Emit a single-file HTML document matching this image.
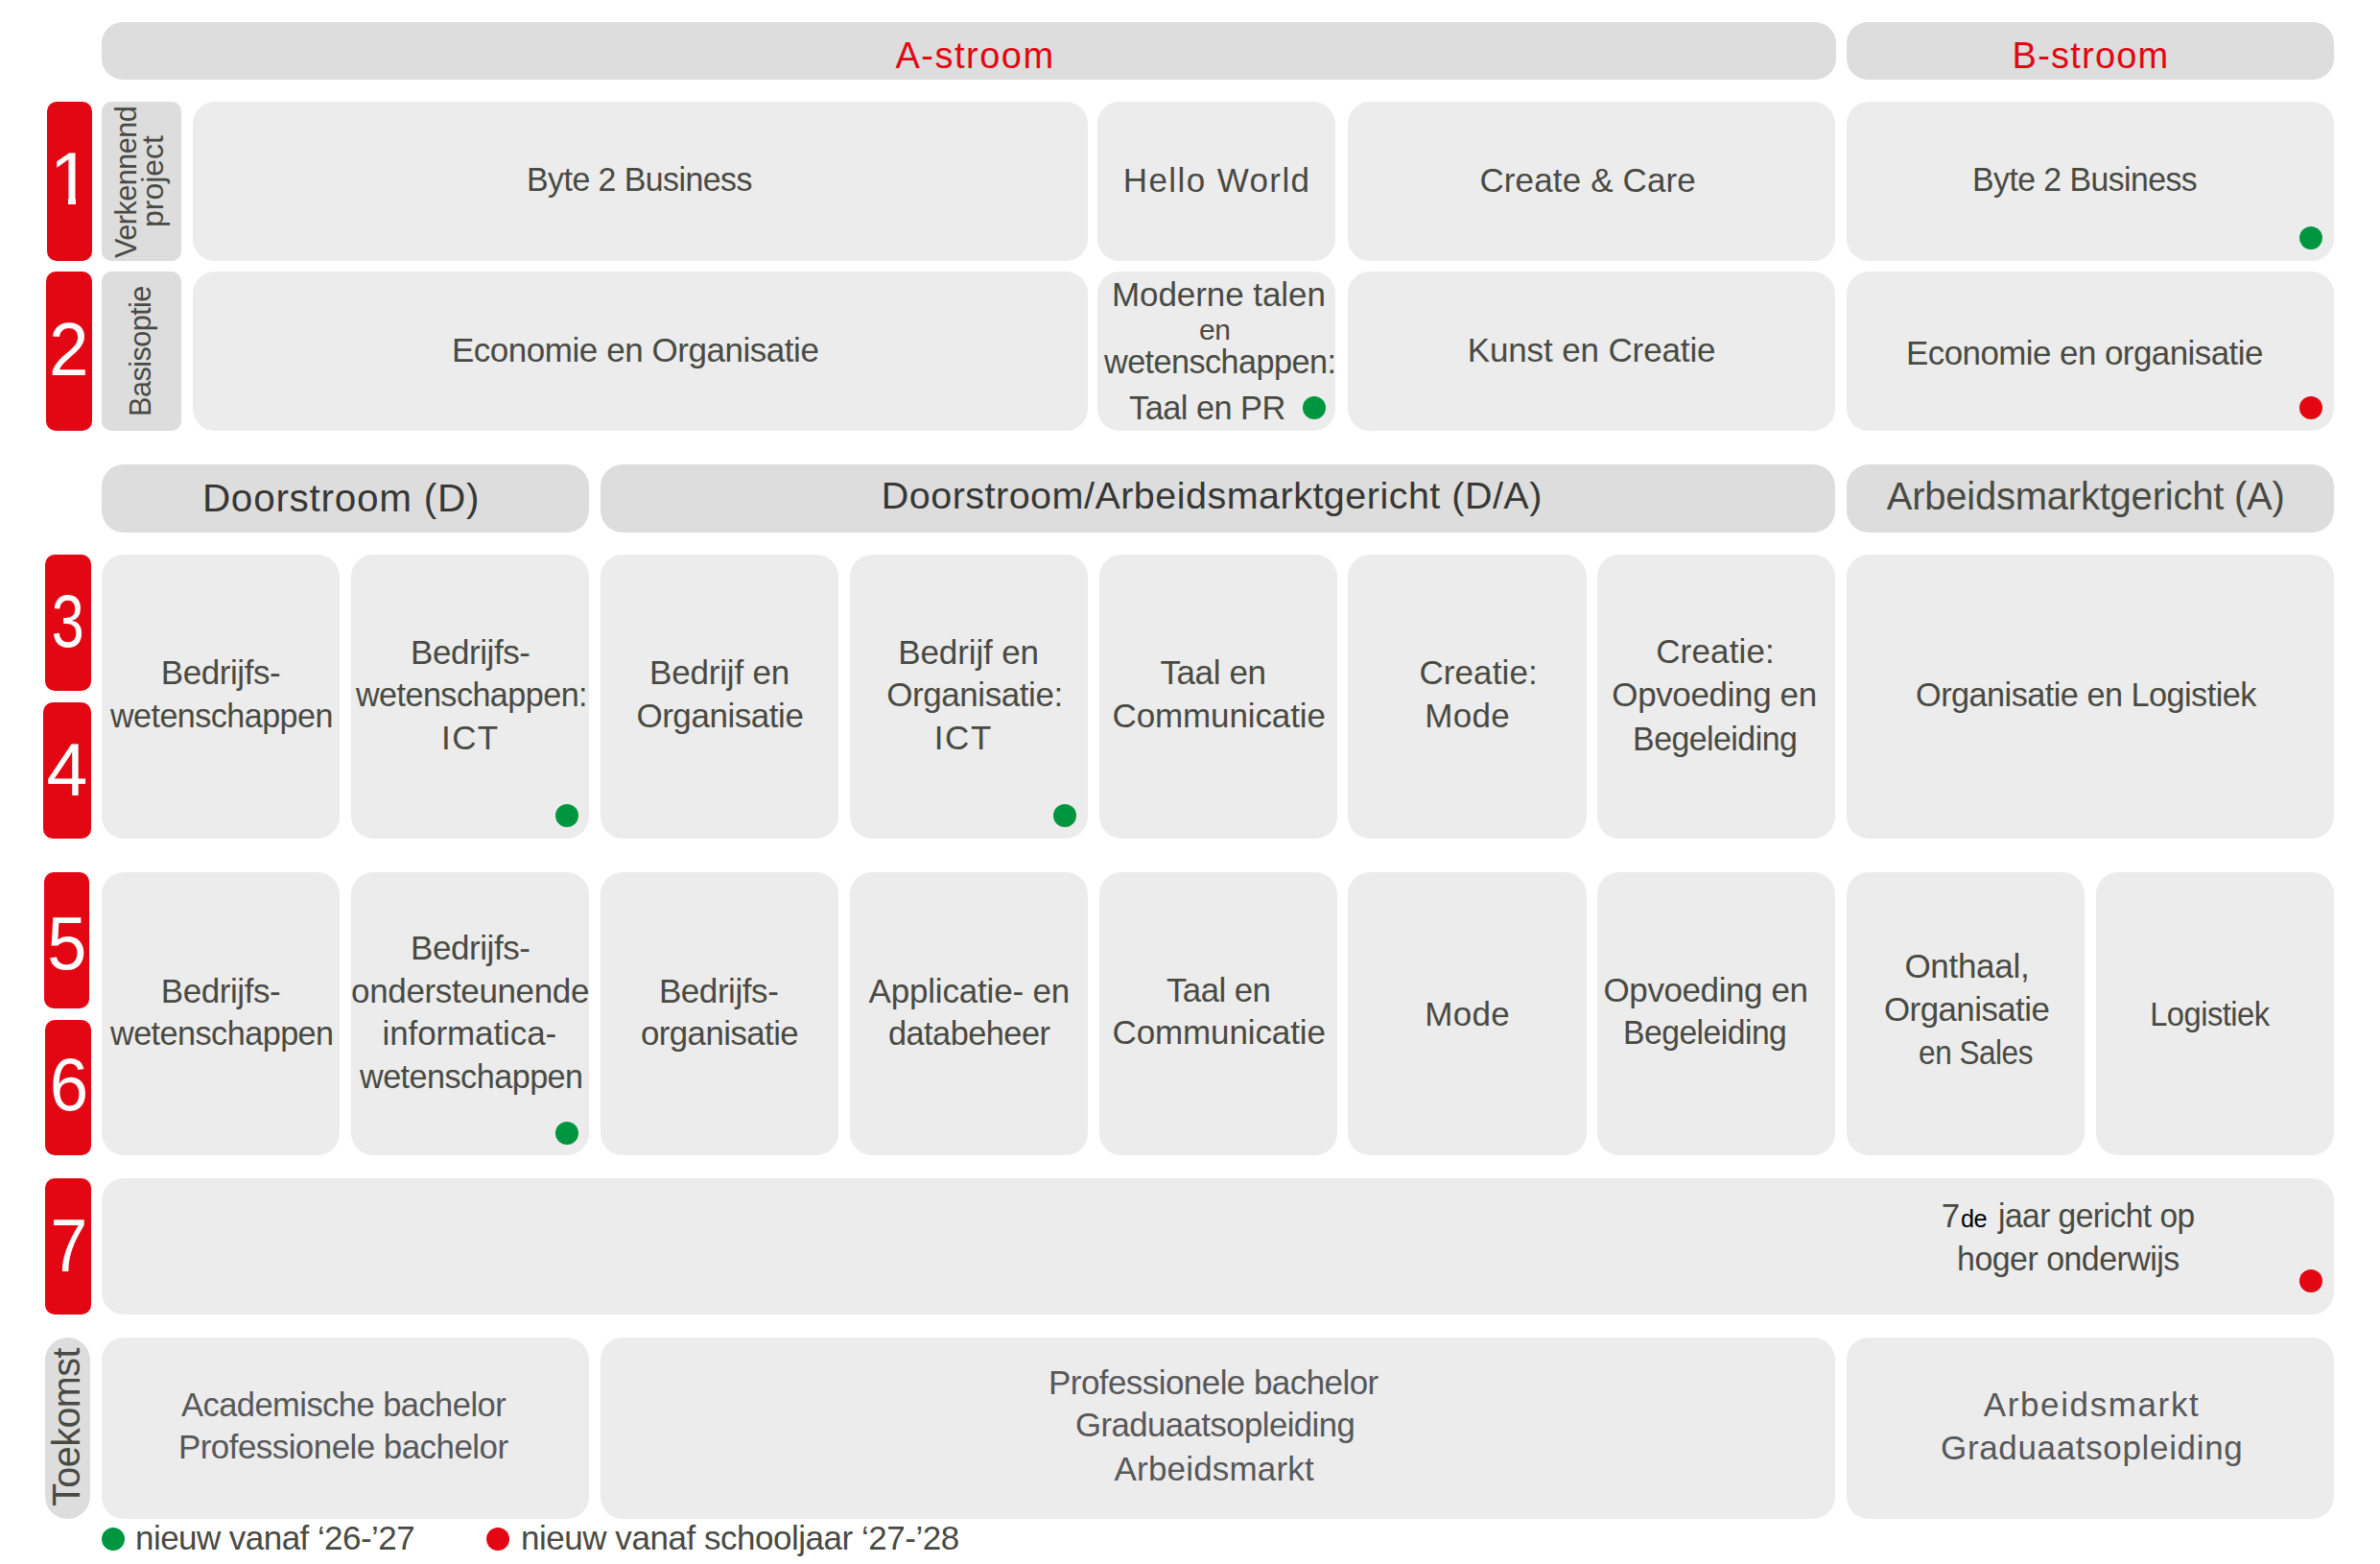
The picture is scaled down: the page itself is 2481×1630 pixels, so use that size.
<!DOCTYPE html>
<html lang="nl">
<head>
<meta charset="utf-8">
<title>Studieaanbod</title>
<style>
html,body{margin:0;padding:0;background:#fff}
body{width:2481px;height:1630px;position:relative;overflow:hidden;font-family:"Liberation Sans", sans-serif}
.b{position:absolute}
.d{position:absolute;width:24px;height:24px;border-radius:50%}
.t{position:absolute;white-space:nowrap;line-height:1;font-kerning:normal}
</style>
</head>
<body>
<div class="b" style="left:106.0px;top:23.4px;width:1807.5px;height:59.2px;background:#dddddd;border-radius:22px"></div>
<div class="b" style="left:1925.0px;top:23.4px;width:508.0px;height:59.2px;background:#dddddd;border-radius:22px"></div>
<div class="b" style="left:106.0px;top:484.2px;width:508.2px;height:70.8px;background:#dddddd;border-radius:23px"></div>
<div class="b" style="left:625.8px;top:484.2px;width:1287.7px;height:70.8px;background:#dddddd;border-radius:23px"></div>
<div class="b" style="left:1925.0px;top:484.2px;width:508.0px;height:70.8px;background:#dddddd;border-radius:23px"></div>
<div class="b" style="left:106.2px;top:106.0px;width:82.9px;height:165.5px;background:#dddddd;border-radius:10px"></div>
<div class="b" style="left:106.2px;top:283.2px;width:82.9px;height:165.4px;background:#dddddd;border-radius:10px"></div>
<div class="b" style="left:47.1px;top:1393.5px;width:47.1px;height:189.0px;background:#dddddd;border-radius:23.5px"></div>
<div class="b" style="left:48.5px;top:106.0px;width:47.3px;height:165.5px;background:#e30613;border-radius:10px"></div>
<div class="b" style="left:48.3px;top:283.2px;width:47.4px;height:165.4px;background:#e30613;border-radius:10px"></div>
<div class="b" style="left:47.2px;top:578.4px;width:47.6px;height:142.0px;background:#e30613;border-radius:10px"></div>
<div class="b" style="left:45.2px;top:732.2px;width:50.0px;height:141.7px;background:#e30613;border-radius:10px"></div>
<div class="b" style="left:46.0px;top:909.2px;width:47.4px;height:141.6px;background:#e30613;border-radius:10px"></div>
<div class="b" style="left:46.9px;top:1062.8px;width:47.9px;height:141.7px;background:#e30613;border-radius:10px"></div>
<div class="b" style="left:46.9px;top:1228.2px;width:47.7px;height:141.8px;background:#e30613;border-radius:10px"></div>
<div class="b" style="left:200.8px;top:106.0px;width:933.2px;height:165.5px;background:#ececec;border-radius:23px"></div>
<div class="b" style="left:1144.0px;top:106.0px;width:248.0px;height:165.5px;background:#ececec;border-radius:23px"></div>
<div class="b" style="left:1405.3px;top:106.0px;width:508.2px;height:165.5px;background:#ececec;border-radius:23px"></div>
<div class="b" style="left:1925.0px;top:106.0px;width:508.0px;height:165.5px;background:#ececec;border-radius:23px"></div>
<div class="b" style="left:200.8px;top:283.2px;width:933.2px;height:165.5px;background:#ececec;border-radius:23px"></div>
<div class="b" style="left:1144.0px;top:283.2px;width:248.0px;height:165.5px;background:#ececec;border-radius:23px"></div>
<div class="b" style="left:1405.3px;top:283.2px;width:508.2px;height:165.5px;background:#ececec;border-radius:23px"></div>
<div class="b" style="left:1925.0px;top:283.2px;width:508.0px;height:165.5px;background:#ececec;border-radius:23px"></div>
<div class="b" style="left:106.1px;top:578.4px;width:248.2px;height:295.5px;background:#ececec;border-radius:23px"></div>
<div class="b" style="left:366.0px;top:578.4px;width:248.2px;height:295.5px;background:#ececec;border-radius:23px"></div>
<div class="b" style="left:625.8px;top:578.4px;width:248.2px;height:295.5px;background:#ececec;border-radius:23px"></div>
<div class="b" style="left:885.7px;top:578.4px;width:248.2px;height:295.5px;background:#ececec;border-radius:23px"></div>
<div class="b" style="left:1145.6px;top:578.4px;width:248.2px;height:295.5px;background:#ececec;border-radius:23px"></div>
<div class="b" style="left:1405.4px;top:578.4px;width:248.2px;height:295.5px;background:#ececec;border-radius:23px"></div>
<div class="b" style="left:1665.3px;top:578.4px;width:248.2px;height:295.5px;background:#ececec;border-radius:23px"></div>
<div class="b" style="left:1925.0px;top:578.4px;width:508.0px;height:295.5px;background:#ececec;border-radius:23px"></div>
<div class="b" style="left:106.1px;top:909.2px;width:248.2px;height:295.1px;background:#ececec;border-radius:23px"></div>
<div class="b" style="left:366.0px;top:909.2px;width:248.2px;height:295.1px;background:#ececec;border-radius:23px"></div>
<div class="b" style="left:625.8px;top:909.2px;width:248.2px;height:295.1px;background:#ececec;border-radius:23px"></div>
<div class="b" style="left:885.7px;top:909.2px;width:248.2px;height:295.1px;background:#ececec;border-radius:23px"></div>
<div class="b" style="left:1145.6px;top:909.2px;width:248.2px;height:295.1px;background:#ececec;border-radius:23px"></div>
<div class="b" style="left:1405.4px;top:909.2px;width:248.2px;height:295.1px;background:#ececec;border-radius:23px"></div>
<div class="b" style="left:1665.3px;top:909.2px;width:248.2px;height:295.1px;background:#ececec;border-radius:23px"></div>
<div class="b" style="left:1925.2px;top:909.2px;width:248.2px;height:295.1px;background:#ececec;border-radius:23px"></div>
<div class="b" style="left:2185.1px;top:909.2px;width:248.2px;height:295.1px;background:#ececec;border-radius:23px"></div>
<div class="b" style="left:106.1px;top:1228.2px;width:2326.9px;height:141.8px;background:#ececec;border-radius:23px"></div>
<div class="b" style="left:106.2px;top:1393.5px;width:508.0px;height:189.0px;background:#ececec;border-radius:23px"></div>
<div class="b" style="left:625.8px;top:1393.5px;width:1287.7px;height:189.0px;background:#ececec;border-radius:23px"></div>
<div class="b" style="left:1925.0px;top:1393.5px;width:508.0px;height:189.0px;background:#ececec;border-radius:23px"></div>
<div class="d" style="left:2397.4px;top:236.0px;background:#009640"></div>
<div class="d" style="left:1358.0px;top:412.8px;background:#009640"></div>
<div class="d" style="left:578.5px;top:838.1px;background:#009640"></div>
<div class="d" style="left:1098.1px;top:838.1px;background:#009640"></div>
<div class="d" style="left:578.5px;top:1168.9px;background:#009640"></div>
<div class="d" style="left:106.2px;top:1592.0px;background:#009640"></div>
<div class="d" style="left:2397.4px;top:413.0px;background:#e30613"></div>
<div class="d" style="left:2397.3px;top:1322.6px;background:#e30613"></div>
<div class="d" style="left:507.4px;top:1592.0px;background:#e30613"></div>
<span class="t" style="left:933.50px;top:38.80px;font-size:38px;letter-spacing:1.503px;color:#e30613">A-stroom</span>
<span class="t" style="left:2097.60px;top:38.80px;font-size:38px;letter-spacing:1.217px;color:#e30613">B-stroom</span>
<span class="t" style="left:549.20px;top:168.80px;font-size:35px;letter-spacing:-0.550px;color:#494a43;transform-origin:2.00px 50%;transform:scaleX(0.9673)">Byte 2 Business</span>
<span class="t" style="left:1170.70px;top:169.50px;font-size:35px;letter-spacing:1.412px;color:#494a43">Hello World</span>
<span class="t" style="left:1542.40px;top:169.50px;font-size:35px;letter-spacing:0.138px;color:#494a43">Create &amp; Care</span>
<span class="t" style="left:2055.70px;top:169.40px;font-size:35px;letter-spacing:-0.550px;color:#494a43;transform-origin:2.00px 50%;transform:scaleX(0.9644)">Byte 2 Business</span>
<span class="t" style="left:470.90px;top:346.80px;font-size:35px;letter-spacing:-0.456px;color:#494a43">Economie en Organisatie</span>
<span class="t" style="left:1158.90px;top:289.20px;font-size:35px;letter-spacing:-0.066px;color:#494a43">Moderne talen</span>
<span class="t" style="left:1250.00px;top:328.90px;font-size:30px;letter-spacing:-0.385px;color:#494a43">en</span>
<span class="t" style="left:1151.20px;top:359.20px;font-size:35px;letter-spacing:-0.550px;color:#494a43;transform-origin:-1.00px 50%;transform:scaleX(0.9767)">wetenschappen:</span>
<span class="t" style="left:1177.10px;top:407.20px;font-size:35px;letter-spacing:-0.550px;color:#494a43;transform-origin:0.00px 50%;transform:scaleX(0.9819)">Taal en PR</span>
<span class="t" style="left:1529.70px;top:346.70px;font-size:35px;letter-spacing:-0.123px;color:#494a43">Kunst en Creatie</span>
<span class="t" style="left:1987.20px;top:349.80px;font-size:35px;letter-spacing:-0.550px;color:#494a43;transform-origin:2.00px 50%;transform:scaleX(0.9979)">Economie en organisatie</span>
<span class="t" style="left:210.90px;top:499.00px;font-size:40.5px;letter-spacing:0.735px;color:#373735">Doorstroom (D)</span>
<span class="t" style="left:918.80px;top:497.00px;font-size:39.5px;letter-spacing:0.482px;color:#373735">Doorstroom/Arbeidsmarktgericht (D/A)</span>
<span class="t" style="left:1966.70px;top:497.00px;font-size:40px;letter-spacing:-0.227px;color:#494a43">Arbeidsmarktgericht (A)</span>
<span class="t" style="left:167.80px;top:683.40px;font-size:35px;letter-spacing:-0.438px;color:#494a43">Bedrijfs-</span>
<span class="t" style="left:114.80px;top:728.00px;font-size:35px;letter-spacing:-0.550px;color:#494a43;transform-origin:-1.00px 50%;transform:scaleX(0.9743)">wetenschappen</span>
<span class="t" style="left:428.00px;top:661.50px;font-size:35px;letter-spacing:-0.426px;color:#494a43">Bedrijfs-</span>
<span class="t" style="left:371.40px;top:706.00px;font-size:35px;letter-spacing:-0.550px;color:#494a43;transform-origin:-1.00px 50%;transform:scaleX(0.9751)">wetenschappen:</span>
<span class="t" style="left:460.10px;top:751.30px;font-size:35px;letter-spacing:1.350px;color:#494a43">ICT</span>
<span class="t" style="left:677.10px;top:683.40px;font-size:35px;letter-spacing:-0.200px;color:#494a43">Bedrijf en</span>
<span class="t" style="left:663.40px;top:728.00px;font-size:35px;letter-spacing:-0.452px;color:#494a43">Organisatie</span>
<span class="t" style="left:936.30px;top:661.50px;font-size:35px;letter-spacing:-0.122px;color:#494a43">Bedrijf en</span>
<span class="t" style="left:924.20px;top:706.00px;font-size:35px;letter-spacing:-0.426px;color:#494a43">Organisatie:</span>
<span class="t" style="left:973.70px;top:751.30px;font-size:35px;letter-spacing:1.650px;color:#494a43">ICT</span>
<span class="t" style="left:1209.40px;top:683.40px;font-size:35px;letter-spacing:-0.383px;color:#494a43">Taal en</span>
<span class="t" style="left:1159.50px;top:728.00px;font-size:35px;letter-spacing:-0.120px;color:#494a43">Communicatie</span>
<span class="t" style="left:1479.40px;top:683.40px;font-size:35px;letter-spacing:0.110px;color:#494a43">Creatie:</span>
<span class="t" style="left:1485.30px;top:728.00px;font-size:35px;letter-spacing:0.271px;color:#494a43">Mode</span>
<span class="t" style="left:1726.20px;top:660.80px;font-size:35px;letter-spacing:0.153px;color:#494a43">Creatie:</span>
<span class="t" style="left:1680.30px;top:706.00px;font-size:35px;letter-spacing:-0.371px;color:#494a43">Opvoeding en</span>
<span class="t" style="left:1701.60px;top:751.90px;font-size:35px;letter-spacing:-0.550px;color:#494a43;transform-origin:2.00px 50%;transform:scaleX(0.9680)">Begeleiding</span>
<span class="t" style="left:1996.60px;top:706.00px;font-size:35px;letter-spacing:-0.550px;color:#494a43;transform-origin:1.00px 50%;transform:scaleX(0.9794)">Organisatie en Logistiek</span>
<span class="t" style="left:167.80px;top:1014.90px;font-size:35px;letter-spacing:-0.438px;color:#494a43">Bedrijfs-</span>
<span class="t" style="left:114.80px;top:1059.40px;font-size:35px;letter-spacing:-0.550px;color:#494a43;transform-origin:-1.00px 50%;transform:scaleX(0.9772)">wetenschappen</span>
<span class="t" style="left:428.00px;top:970.00px;font-size:35px;letter-spacing:-0.426px;color:#494a43">Bedrijfs-</span>
<span class="t" style="left:366.10px;top:1014.90px;font-size:35px;letter-spacing:-0.364px;color:#494a43">ondersteunende</span>
<span class="t" style="left:398.50px;top:1059.40px;font-size:35px;letter-spacing:-0.107px;color:#494a43">informatica-</span>
<span class="t" style="left:375.30px;top:1104.30px;font-size:35px;letter-spacing:-0.550px;color:#494a43;transform-origin:-1.00px 50%;transform:scaleX(0.9772)">wetenschappen</span>
<span class="t" style="left:686.90px;top:1014.90px;font-size:35px;letter-spacing:-0.426px;color:#494a43">Bedrijfs-</span>
<span class="t" style="left:668.30px;top:1059.40px;font-size:35px;letter-spacing:-0.550px;color:#494a43;transform-origin:1.00px 50%;transform:scaleX(0.9935)">organisatie</span>
<span class="t" style="left:905.60px;top:1014.90px;font-size:35px;letter-spacing:-0.193px;color:#494a43">Applicatie- en</span>
<span class="t" style="left:925.50px;top:1059.40px;font-size:35px;letter-spacing:-0.550px;color:#494a43;transform-origin:1.00px 50%;transform:scaleX(0.9808)">databeheer</span>
<span class="t" style="left:1215.90px;top:1013.60px;font-size:35px;letter-spacing:-0.550px;color:#494a43;transform-origin:0.00px 50%;transform:scaleX(0.9945)">Taal en</span>
<span class="t" style="left:1159.50px;top:1058.10px;font-size:35px;letter-spacing:-0.120px;color:#494a43">Communicatie</span>
<span class="t" style="left:1485.30px;top:1038.80px;font-size:35px;letter-spacing:0.271px;color:#494a43">Mode</span>
<span class="t" style="left:1671.50px;top:1013.60px;font-size:35px;letter-spacing:-0.407px;color:#494a43">Opvoeding en</span>
<span class="t" style="left:1691.80px;top:1058.10px;font-size:35px;letter-spacing:-0.550px;color:#494a43;transform-origin:2.00px 50%;transform:scaleX(0.9623)">Begeleiding</span>
<span class="t" style="left:1985.40px;top:988.70px;font-size:35px;letter-spacing:-0.298px;color:#494a43">Onthaal,</span>
<span class="t" style="left:1963.80px;top:1033.90px;font-size:35px;letter-spacing:-0.550px;color:#494a43;transform-origin:1.00px 50%;transform:scaleX(0.9964)">Organisatie</span>
<span class="t" style="left:1999.80px;top:1078.80px;font-size:35px;letter-spacing:-0.550px;color:#494a43;transform-origin:1.00px 50%;transform:scaleX(0.9018)">en Sales</span>
<span class="t" style="left:2240.70px;top:1038.80px;font-size:35px;letter-spacing:-0.550px;color:#494a43;transform-origin:2.00px 50%;transform:scaleX(0.9347)">Logistiek</span>
<span class="t" style="left:2023.80px;top:1248.50px;font-size:35px;letter-spacing:0.000px;color:#494a43">7</span>
<span class="t" style="left:2044.00px;top:1256.50px;font-size:26px;letter-spacing:-0.550px;color:#000000;transform-origin:1.00px 50%;transform:scaleX(0.9736)">de</span>
<span class="t" style="left:2082.80px;top:1248.50px;font-size:35px;letter-spacing:-0.550px;color:#494a43;transform-origin:-1.00px 50%;transform:scaleX(0.9587)">jaar gericht op</span>
<span class="t" style="left:2039.50px;top:1294.10px;font-size:35px;letter-spacing:-0.550px;color:#494a43;transform-origin:2.00px 50%;transform:scaleX(0.9701)">hoger onderwijs</span>
<span class="t" style="left:189.20px;top:1445.80px;font-size:35px;letter-spacing:-0.550px;color:#57585a;transform-origin:0.00px 50%;transform:scaleX(0.9855)">Academische bachelor</span>
<span class="t" style="left:185.90px;top:1489.90px;font-size:35px;letter-spacing:-0.550px;color:#57585a;transform-origin:2.00px 50%;transform:scaleX(0.9987)">Professionele bachelor</span>
<span class="t" style="left:1092.60px;top:1422.90px;font-size:35px;letter-spacing:-0.550px;color:#57585a;transform-origin:2.00px 50%;transform:scaleX(0.9993)">Professionele bachelor</span>
<span class="t" style="left:1120.90px;top:1467.20px;font-size:35px;letter-spacing:-0.550px;color:#57585a;transform-origin:1.00px 50%;transform:scaleX(0.9920)">Graduaatsopleiding</span>
<span class="t" style="left:1161.60px;top:1512.80px;font-size:35px;letter-spacing:0.168px;color:#57585a">Arbeidsmarkt</span>
<span class="t" style="left:2067.80px;top:1445.80px;font-size:35px;letter-spacing:1.614px;color:#57585a">Arbeidsmarkt</span>
<span class="t" style="left:2023.00px;top:1490.90px;font-size:35px;letter-spacing:0.660px;color:#57585a">Graduaatsopleiding</span>
<span class="t" style="left:141.40px;top:1585.30px;font-size:35px;letter-spacing:-0.550px;color:#494a43;transform-origin:2.00px 50%;transform:scaleX(0.9999)">nieuw vanaf ‘26-’27</span>
<span class="t" style="left:543.00px;top:1585.30px;font-size:35px;letter-spacing:-0.468px;color:#494a43">nieuw vanaf schooljaar ‘27-’28</span>
<span class="t" style="left:51.72px;top:146.70px;font-size:78.5px;color:#ffffff">1</span>
<div class="b" style="left:50px;top:204.8px;width:21.4px;height:10px;background:#e30613"></div>
<div class="b" style="left:78.6px;top:204.8px;width:15.4px;height:10px;background:#e30613"></div>
<span class="t" style="left:50.40px;top:324.70px;font-size:78.5px;color:#ffffff;transform-origin:21.50px 50%;transform:scaleX(0.951)">2</span>
<span class="t" style="left:49.40px;top:608.00px;font-size:78.5px;color:#ffffff;transform-origin:21.50px 50%;transform:scaleX(0.779)">3</span>
<span class="t" style="left:48.20px;top:762.50px;font-size:78.5px;color:#ffffff;transform-origin:21.50px 50%;transform:scaleX(0.980)">4</span>
<span class="t" style="left:47.60px;top:944.20px;font-size:78.5px;color:#ffffff;transform-origin:22.00px 50%;transform:scaleX(0.942)">5</span>
<span class="t" style="left:49.55px;top:1091.30px;font-size:78.5px;color:#ffffff;transform-origin:22.00px 50%;transform:scaleX(0.924)">6</span>
<span class="t" style="left:49.55px;top:1258.80px;font-size:78.5px;color:#ffffff;transform-origin:22.00px 50%;transform:scaleX(0.886)">7</span>
<span class="t" style="left:142.20px;top:241.50px;font-size:32px;letter-spacing:-0.550px;color:#494a43;transform-origin:0.00px 27.00px;transform:rotate(-90deg) scaleX(0.9575)">Verkennend</span>
<span class="t" style="left:168.20px;top:208.00px;font-size:32px;letter-spacing:-0.026px;color:#494a43;transform-origin:2.00px 27.00px;transform:rotate(-90deg) scaleX(1.0000)">project</span>
<span class="t" style="left:154.80px;top:405.00px;font-size:32px;letter-spacing:-0.550px;color:#494a43;transform-origin:2.00px 27.00px;transform:rotate(-90deg) scaleX(0.9550)">Basisoptie</span>
<span class="t" style="left:82.70px;top:1536.40px;font-size:40px;letter-spacing:-0.550px;color:#494a43;transform-origin:0.00px 34.00px;transform:rotate(-90deg) scaleX(0.9892)">Toekomst</span>
</body>
</html>
